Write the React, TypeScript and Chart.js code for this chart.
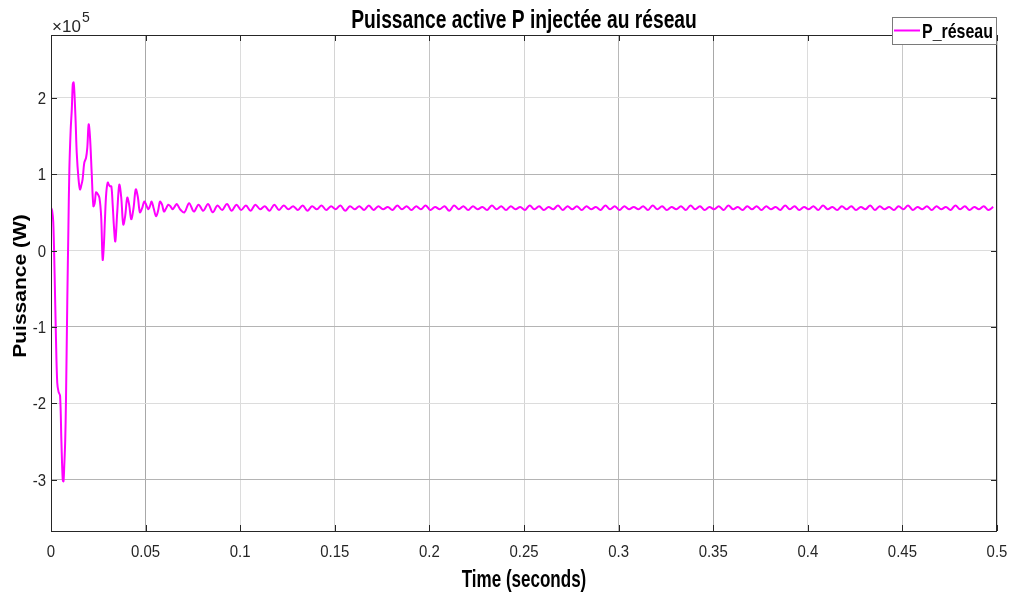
import { useEffect, useRef } from "react";
import { Chart, registerables } from "chart.js";

Chart.register(...registerables);

// Axis ticks
const xTickValues = [0, 0.05, 0.1, 0.15, 0.2, 0.25, 0.3, 0.35, 0.4, 0.45, 0.5];
const xTickLabels = ["0", "0.05", "0.1", "0.15", "0.2", "0.25", "0.3", "0.35", "0.4", "0.45", "0.5"];
const yTickValues = [-3, -2, -1, 0, 1, 2];
const yTickLabels = ["-3", "-2", "-1", "0", "1", "2"];

// Start-up transient: [time (s), P (x10^5 W)]
const transientSamples: [number, number][] = [
  [0, 0.56], [0.0006, 0.52], [0.0012, 0.37], [0.0019, -0.3], [0.0026, -1.12],
  [0.0033, -1.73], [0.004, -1.85], [0.0048, -1.9], [0.0055, -2.5], [0.0062, -3.0],
  [0.0066, -3.02], [0.007, -2.82], [0.0075, -2.5], [0.0079, -1.99], [0.0086, -0.68],
  [0.0092, 0.3], [0.0097, 1.06], [0.0104, 1.58], [0.011, 1.85], [0.0115, 2.17],
  [0.0119, 2.2], [0.0123, 2.1], [0.013, 1.7], [0.0136, 1.28], [0.0145, 0.95],
  [0.0153, 0.8], [0.016, 0.85], [0.0167, 0.93], [0.0176, 1.15], [0.0185, 1.21],
  [0.0192, 1.35], [0.0199, 1.65], [0.0206, 1.49], [0.0215, 1.02], [0.0224, 0.58],
  [0.0231, 0.62], [0.0238, 0.76], [0.0247, 0.74], [0.0256, 0.69], [0.0265, 0.45],
  [0.0273, -0.12], [0.0279, 0.05], [0.0285, 0.4], [0.0292, 0.75], [0.03, 0.89],
  [0.0306, 0.86], [0.0312, 0.84], [0.0319, 0.84], [0.0326, 0.6], [0.0333, 0.3],
  [0.034, 0.12], [0.035, 0.5], [0.0361, 0.86], [0.0371, 0.7], [0.0382, 0.34],
  [0.0392, 0.45], [0.0403, 0.69], [0.0413, 0.6], [0.0424, 0.41], [0.0436, 0.55],
  [0.0448, 0.8], [0.0459, 0.7], [0.047, 0.5], [0.0481, 0.55], [0.0493, 0.64],
  [0.0503, 0.6], [0.0514, 0.54], [0.0523, 0.58], [0.0532, 0.64], [0.0543, 0.55],
  [0.0555, 0.45], [0.0566, 0.52], [0.0576, 0.64], [0.0587, 0.6], [0.0597, 0.51],
  [0.0608, 0.55], [0.062, 0.6], [0.0631, 0.58], [0.0643, 0.54], [0.0653, 0.57],
  [0.0664, 0.61], [0.0673, 0.58], [0.0682, 0.54],
];

// Steady-state ripple, sampled every half ripple period from steadyStart
const steadyStart = 0.0705;
const steadyStep = 0.0025;
const steadyValues = [
  0.5, 0.62, 0.51, 0.6, 0.52, 0.61, 0.5, 0.59, 0.53, 0.61, 0.52, 0.6,
  0.53, 0.59, 0.52, 0.6, 0.54, 0.58, 0.52, 0.6, 0.53, 0.59, 0.54, 0.58,
  0.53, 0.59, 0.52, 0.58, 0.54, 0.59, 0.53, 0.58, 0.54, 0.59, 0.52, 0.58,
  0.54, 0.58, 0.53, 0.59, 0.53, 0.58, 0.54, 0.57, 0.53, 0.59, 0.54, 0.58,
  0.53, 0.58, 0.54, 0.59, 0.53, 0.57, 0.54, 0.58, 0.52, 0.59, 0.54, 0.58,
  0.53, 0.58, 0.54, 0.57, 0.53, 0.59, 0.54, 0.58, 0.53, 0.58, 0.54, 0.57,
  0.53, 0.59, 0.54, 0.58, 0.53, 0.57, 0.54, 0.59, 0.53, 0.58, 0.54, 0.58,
  0.53, 0.58, 0.54, 0.57, 0.53, 0.59, 0.54, 0.58, 0.53, 0.58, 0.54, 0.57,
  0.54, 0.58, 0.53, 0.59, 0.54, 0.58, 0.53, 0.57, 0.54, 0.58, 0.53, 0.59,
  0.54, 0.58, 0.53, 0.57, 0.54, 0.58, 0.53, 0.59, 0.54, 0.57, 0.53, 0.58,
  0.54, 0.58, 0.53, 0.58, 0.54, 0.57, 0.53, 0.59, 0.54, 0.58, 0.53, 0.57,
  0.54, 0.58, 0.53, 0.59, 0.54, 0.57, 0.53, 0.58, 0.54, 0.58, 0.53, 0.57,
  0.54, 0.59, 0.53, 0.58, 0.54, 0.57, 0.53, 0.58, 0.54, 0.59, 0.53, 0.57,
  0.54, 0.58, 0.53, 0.58, 0.54, 0.57, 0.53, 0.59, 0.54, 0.58, 0.53, 0.57,
  0.54, 0.58, 0.53, 0.57,
];

const TITLE = "Puissance active P injectée au réseau";
const X_TITLE = "Time (seconds)";
const Y_TITLE = "Puissance (W)";
const SERIES_NAME = "P_réseau";

// grid shading (reference shows uneven grey levels)
const xGridShade = ["#d0d0d0", "#a8a8a8", "#dcdcdc", "#d4d4d4", "#c4c4c4", "#d4d4d4", "#b8b8b8", "#a8a8a8", "#dcdcdc", "#c8c8c8", "#d0d0d0"];
const yGridShade = ["#b4b4b4", "#dcdcdc", "#b4b4b4", "#dcdcdc", "#b4b4b4", "#dcdcdc"];

const FONT = '"Liberation Sans", Arial, Helvetica, sans-serif';
const MAGENTA = "#ff00ff";

function drawText(
  ctx: CanvasRenderingContext2D,
  s: string,
  x: number,
  y: number,
  font: string,
  align: CanvasTextAlign,
  color: string,
  sx = 1,
  sy = 1,
  rot = 0
) {
  ctx.save();
  ctx.translate(x, y);
  if (rot) ctx.rotate(rot);
  ctx.scale(sx, sy);
  ctx.font = font;
  ctx.textAlign = align;
  ctx.textBaseline = "alphabetic";
  ctx.fillStyle = color;
  ctx.fillText(s, 0, 0);
  ctx.restore();
}

const decorPlugin = {
  id: "decor",
  afterDraw(chart: any) {
    const { ctx, chartArea: a, scales } = chart;
    const xs = scales.x;
    const ys = scales.y;
    ctx.save();
    // axes box
    ctx.strokeStyle = "#262626";
    ctx.lineWidth = 1;
    ctx.strokeRect(Math.round(a.left) + 0.5, Math.round(a.top) + 0.5, Math.round(a.right - a.left) - 1, Math.round(a.bottom - a.top));
    // inward tick marks
    ctx.beginPath();
    xTickValues.forEach((v) => {
      const px = Math.round(xs.getPixelForValue(v)) + 0.5;
      ctx.moveTo(px, a.bottom);
      ctx.lineTo(px, a.bottom - 6);
      ctx.moveTo(px, a.top);
      ctx.lineTo(px, a.top + 6);
    });
    yTickValues.forEach((v) => {
      const py = Math.round(ys.getPixelForValue(v)) + 0.5;
      ctx.moveTo(a.left, py);
      ctx.lineTo(a.left + 6, py);
      ctx.moveTo(a.right, py);
      ctx.lineTo(a.right - 6, py);
    });
    ctx.stroke();
    ctx.restore();

    const tickFont = `17px ${FONT}`;
    xTickValues.forEach((v, i) => {
      drawText(ctx, xTickLabels[i], xs.getPixelForValue(v), a.bottom + 26, tickFont, "center", "#262626", 0.88);
    });
    yTickValues.forEach((v, i) => {
      drawText(ctx, yTickLabels[i], a.left - 5, ys.getPixelForValue(v) + 6, tickFont, "right", "#262626", 0.88);
    });

    // exponent
    drawText(ctx, "×10", a.left + 1, 31.5, `17px ${FONT}`, "left", "#262626");
    drawText(ctx, "5", a.left + 31, 22, `14px ${FONT}`, "left", "#262626");

    // titles
    const cx = (a.left + a.right) / 2;
    drawText(ctx, TITLE, cx, 28, `bold 25px ${FONT}`, "center", "#000", 0.77);
    drawText(ctx, X_TITLE, cx, 587, `bold 23px ${FONT}`, "center", "#000", 0.74);
    drawText(ctx, Y_TITLE, 26, (a.top + a.bottom) / 2 + 3, `bold 21px ${FONT}`, "center", "#000", 1, 0.87, -Math.PI / 2);

    // legend
    ctx.save();
    ctx.fillStyle = "#ffffff";
    ctx.fillRect(892, 17, 105, 27);
    ctx.strokeStyle = "#7a7a7a";
    ctx.lineWidth = 1;
    ctx.strokeRect(892.5, 17.5, 104, 27);
    ctx.strokeStyle = MAGENTA;
    ctx.lineWidth = 2;
    ctx.beginPath();
    ctx.moveTo(894, 30.5);
    ctx.lineTo(920, 30.5);
    ctx.stroke();
    ctx.restore();
    drawText(ctx, SERIES_NAME, 922, 38, `bold 21px ${FONT}`, "left", "#000", 0.76);
  },
};

export default function App() {
  const canvasRef = useRef<HTMLCanvasElement | null>(null);

  useEffect(() => {
    document.body.style.margin = "0";
    const canvas = canvasRef.current;
    if (!canvas) return;
    const points = [
      ...transientSamples.map(([t, p]) => ({ x: t, y: p })),
      ...steadyValues.map((p, i) => ({ x: steadyStart + i * steadyStep, y: p })),
    ];
    const chart = new Chart(canvas, {
      type: "line",
      data: {
        datasets: [
          {
            label: SERIES_NAME,
            data: points,
            borderColor: MAGENTA,
            borderWidth: 2,
            pointRadius: 0,
            tension: 0.35,
            fill: false,
          },
        ],
      },
      options: {
        animation: false,
        responsive: false,
        devicePixelRatio: 1,
        layout: { padding: { top: 35, right: 16, left: 0, bottom: 0 } },
        plugins: {
          legend: { display: false },
          title: { display: false },
          tooltip: { enabled: false },
        },
        scales: {
          x: {
            type: "linear",
            min: 0,
            max: 0.5,
            afterBuildTicks: (s: any) => {
              s.ticks = xTickValues.map((v) => ({ value: v }));
            },
            afterFit: (s: any) => {
              s.height = 62;
            },
            ticks: { display: false },
            border: { display: false },
            grid: {
              drawTicks: false,
              color: (c: any) => xGridShade[c.index] || "#d0d0d0",
              lineWidth: 1,
            },
          },
          y: {
            type: "linear",
            min: -3.67,
            max: 2.82,
            afterBuildTicks: (s: any) => {
              s.ticks = yTickValues.map((v) => ({ value: v }));
            },
            afterFit: (s: any) => {
              s.width = 51;
            },
            ticks: { display: false },
            border: { display: false },
            grid: {
              drawTicks: false,
              color: (c: any) => yGridShade[c.index] || "#d0d0d0",
              lineWidth: 1,
            },
          },
        },
      },
      plugins: [decorPlugin],
    });
    return () => chart.destroy();
  }, []);

  return (
    <div style={{ width: 1013, height: 593, background: "#fff" }}>
      <canvas ref={canvasRef} width={1013} height={593} style={{ width: 1013, height: 593, display: "block" }} />
    </div>
  );
}
